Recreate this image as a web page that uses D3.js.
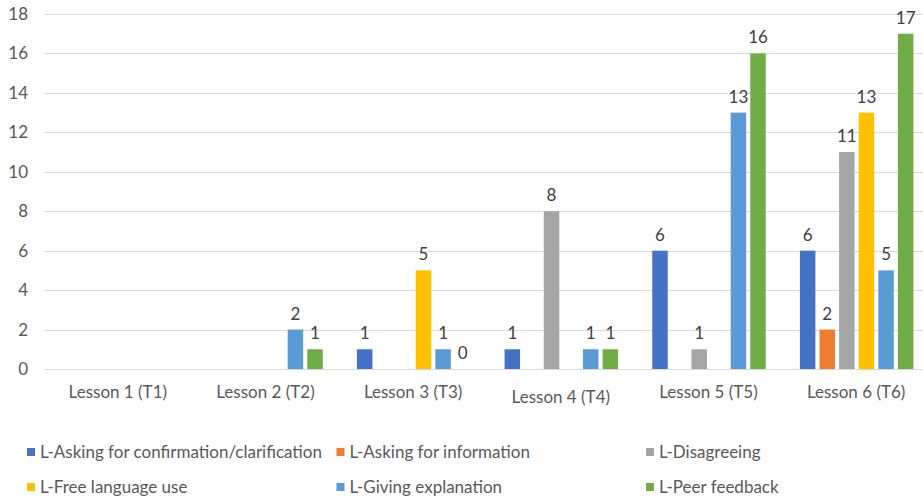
<!DOCTYPE html>
<html><head><meta charset="utf-8">
<script src="https://cdn.jsdelivr.net/npm/d3@7/dist/d3.min.js"></script>
<style>body{margin:0;background:#fff;}svg text{font-family:Lato,"Open Sans",sans-serif;}</style>
</head><body>
<svg id="c" width="923" height="497"></svg>
<script>
const categories = ["Lesson 1 (T1)","Lesson 2 (T2)","Lesson 3 (T3)","Lesson 4 (T4)","Lesson 5 (T5)","Lesson 6 (T6)"];
const seriesNames = ["L-Asking for confirmation/clarification","L-Asking for information","L-Disagreeing","L-Free language use","L-Giving explanation","L-Peer feedback"];
const askingConfirmation = [null,null,1,1,6,6];
const askingInformation  = [null,null,null,null,null,2];
const disagreeing        = [null,null,null,8,1,11];
const freeLanguage       = [null,null,5,null,null,13];
const givingExplanation  = [null,2,1,1,13,5];
const peerFeedback       = [null,1,0,1,16,17];
const yTicks = [0,2,4,6,8,10,12,14,16,18];
const colors = ["#4472C4","#ED7D31","#A5A5A5","#FFC000","#5B9BD5","#70AD47"];

const seriesValues = [askingConfirmation,askingInformation,disagreeing,freeLanguage,givingExplanation,peerFeedback];
const svg = d3.select("#c");
const x0 = d3.scaleBand().domain(categories).range([46,932]);
const x1 = d3.scaleBand().domain(seriesNames).range([0,113.5]).paddingInner(0.21);
const y = d3.scaleLinear().domain([0,18]).range([369,14]);
const groupOffset = (x0.bandwidth()-113.5-3)/2;

svg.append("g").selectAll("line").data(yTicks).join("line")
  .attr("x1",45).attr("x2",923).attr("y1",d=>Math.round(y(d))+0.5).attr("y2",d=>Math.round(y(d))+0.5)
  .attr("stroke","#d9d9d9").attr("stroke-width",1);

svg.append("g").selectAll("text").data(yTicks).join("text")
  .attr("x",28).attr("y",d=>y(d)).attr("dy","0.35em").attr("text-anchor","end")
  .attr("font-size",17).attr("fill","#595959").text(d=>d);

const rows = [];
seriesNames.forEach((s,si)=>categories.forEach((c,ci)=>{
  const v = seriesValues[si][ci];
  if(v!==null) rows.push({s,si,c,ci,v});
}));
svg.append("g").selectAll("rect").data(rows.filter(d=>d.v>0)).join("rect")
  .attr("x",d=>x0(d.c)+groupOffset+x1(d.s)).attr("width",x1.bandwidth())
  .attr("y",d=>y(d.v)).attr("height",d=>y(0)-y(d.v))
  .attr("fill",d=>colors[d.si]);

svg.append("g").selectAll("text").data(rows).join("text")
  .attr("x",d=>x0(d.c)+groupOffset+x1(d.s)+x1.bandwidth()/2).attr("y",d=>y(d.v)-10)
  .attr("text-anchor","middle").attr("font-size",17).attr("fill","#404040").text(d=>d.v);

svg.append("g").selectAll("text").data(categories).join("text")
  .attr("x",d=>x0(d)+x0.bandwidth()/2-2).attr("y",(d,i)=>i===3?403:398)
  .attr("text-anchor","middle").attr("font-size",17).attr("fill","#595959").text(d=>d);

const lg = svg.append("g").selectAll("g").data(seriesNames).join("g")
  .attr("transform",(d,i)=>`translate(${27+(i%3)*309.5},${i<3?452:487})`);
lg.append("rect").attr("x",0).attr("y",-4).attr("width",8).attr("height",8).attr("fill",(d,i)=>colors[i]);
lg.append("text").attr("x",13).attr("y",0).attr("dy","0.35em").attr("font-size",17).attr("fill","#595959").text(d=>d);
</script>
</body></html>
